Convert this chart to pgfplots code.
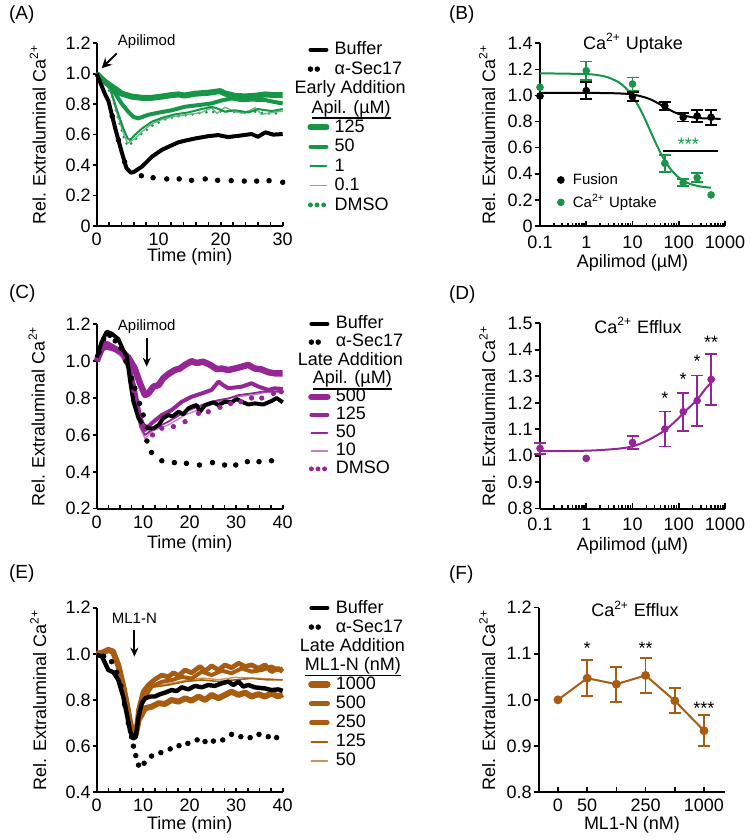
\documentclass[border=0pt]{standalone}
\usepackage{pgfplots}
\pgfplotsset{compat=1.18}
\usepackage{fontspec}
\setmainfont{Liberation Sans}
\usetikzlibrary{arrows.meta}
\definecolor{gA}{RGB}{22,150,70}
\definecolor{gAl}{RGB}{105,188,130}
\definecolor{pC}{RGB}{150,38,150}
\definecolor{pCl}{RGB}{200,128,200}
\definecolor{oE}{RGB}{168,92,18}
\definecolor{oEl}{RGB}{200,148,90}
\newcommand{\ca}{Ca\textsuperscript{2+}}
\newcommand{\ul}[1]{\setbox0\hbox{#1}\rlap{\rule[-3pt]{\wd0}{0.9pt}}\box0}
\newcommand{\st}{\rule[-2.2pt]{0pt}{8.8pt}}
\pgfplotsset{
  every non boxed x axis/.style={},
  every non boxed y axis/.style={},
  panel/.style={
    scale only axis, anchor=south west, clip=false, enlargelimits=false,
    axis lines=left, axis line style={-, line width=1pt},
    x axis line style={-}, y axis line style={-},
    xtick align=inside, ytick align=outside,
    major tick length=2pt, minor tick length=2pt,
    tick style={black, line width=0.8pt},
    tick label style={font=\fontsize{9}{10}\selectfont},
    yticklabel style={xshift=2.5pt},
    label style={font=\fontsize{9}{10}\selectfont},
    /pgf/number format/assume math mode=true,
    ylabel={Rel. Extraluminal \ca},
    legend cell align=left,
  },
  tlegend/.style={
    legend style={at={(#1)}, anchor=north west, draw=none, fill=none,
      font=\fontsize{9}{10}\selectfont, inner sep=0pt,
      nodes={inner sep=0.6pt},
      /tikz/every odd column/.append style={column sep=2pt}},
    legend image code/.code={\draw[line cap=round,##1] (0pt,0pt) -- (8pt,0pt);},
  },
  twodots/.style={legend image code/.code={\fill[black] (0pt,0pt) circle (1.15pt); \fill[black] (3.4pt,0pt) circle (1.15pt);}},
  ebar/.style={only marks, mark=*, mark size=1.7pt, forget plot,
    error bars/.cd, y dir=both, y explicit,
    error bar style={line width=0.9pt},
    error mark options={rotate=90, mark size=3pt, line width=0.9pt}},
}
\begin{document}
\begin{tikzpicture}
\useasboundingbox (0,0) rectangle (375pt,420pt);
\node[anchor=west, font=\fontsize{9.5}{10}\selectfont] at (1pt,412.5pt) {(A)};
\node[anchor=west, font=\fontsize{9.5}{10}\selectfont] at (221pt,412.5pt) {(B)};
\node[anchor=west, font=\fontsize{9.5}{10}\selectfont] at (1pt,273pt) {(C)};
\node[anchor=west, font=\fontsize{9.5}{10}\selectfont] at (221pt,272.5pt) {(D)};
\node[anchor=west, font=\fontsize{9.5}{10}\selectfont] at (1pt,133pt) {(E)};
\node[anchor=west, font=\fontsize{9.5}{10}\selectfont] at (221pt,132.5pt) {(F)};

% ---------------- (A) ----------------
\begin{axis}[panel, tlegend={1.131,1.018}, legend style={row sep=0.4pt},
  at={(48.35pt,307pt)}, width=93pt, height=91.35pt,
  xmin=0, xmax=30, ymin=0, ymax=1.2,
  xtick={0,10,20,30}, minor xtick={2,4,6,8,12,14,16,18,22,24,26,28},
  ytick={0,0.2,0.4,0.6,0.8,1,1.2}, yticklabels={0,0.2,0.4,0.6,0.8,1.0,1.2},
  xlabel={Time (min)},
  ylabel style={at={(axis description cs:-0.317,0.5)}, anchor=center},
  xlabel style={at={(axis description cs:0.5,-0.171)}, anchor=center},
]
\addlegendimage{black, line width=2pt}\addlegendentry{\st Buffer}
\addlegendimage{twodots}\addlegendentry{\st α-Sec17}
\addlegendimage{empty legend}\addlegendentry{\st\hspace*{-20pt}Early Addition}
\addlegendimage{empty legend}\addlegendentry{\rule[-2.7pt]{0pt}{9.3pt}\hspace*{-11.5pt}\ul{Apil. (µM)}}
\addlegendimage{gA, line width=3pt}\addlegendentry{\st 125}
\addlegendimage{gA, line width=2pt}\addlegendentry{\st 50}
\addlegendimage{gA, line width=1pt}\addlegendentry{\st 1}
\addlegendimage{gAl, line width=0.7pt}\addlegendentry{\st 0.1}
\addlegendimage{legend image code/.code={\fill[gA] (0pt,0pt) circle (1pt); \fill[gA] (3.3pt,0pt) circle (1pt); \fill[gA] (6.6pt,0pt) circle (1pt);}}\addlegendentry{\st DMSO}
\addplot[gA, line width=1.5pt, line cap=round, dash pattern=on 0pt off 3.5pt, forget plot] coordinates {(0,1.0) (1.5,0.93) (2.5,0.85) (3.5,0.70) (4.4,0.58) (5,0.525) (5.8,0.55) (7,0.60) (9,0.66) (11,0.70) (13,0.72) (15,0.73) (17,0.745) (19,0.75) (21,0.755) (23,0.745) (25,0.755) (27,0.74) (29,0.74) (30,0.745)};
\addplot[gAl, line width=0.7pt, line join=round, forget plot] coordinates {(0,1.0) (1,0.96) (2.2,0.89) (3.2,0.75) (4.3,0.61) (5,0.543) (6.2,0.575) (7.3,0.62) (8.9,0.67) (10.5,0.70) (12.6,0.72) (14.2,0.729) (16.9,0.745) (18.5,0.777) (19.4,0.74) (20.7,0.78) (22.3,0.75) (23.9,0.74) (25.5,0.777) (26.6,0.733) (28.2,0.745) (30,0.755)};
\addplot[gA, line width=1pt, line join=round, forget plot] coordinates {(0,1.0) (1,0.96) (2.2,0.90) (3.2,0.77) (4.3,0.64) (5,0.575) (5.4,0.565) (6.2,0.60) (7.3,0.64) (8.9,0.685) (10.5,0.71) (12.6,0.733) (14.8,0.746) (16.9,0.768) (18.5,0.783) (19.6,0.77) (20.7,0.75) (22.3,0.76) (24.5,0.746) (26,0.768) (28.2,0.755) (30,0.768)};
\addplot[gA, line width=2pt, line join=round, forget plot] coordinates {(0,1.0) (1.5,0.95) (3,0.87) (4,0.805) (5.1,0.75) (5.9,0.717) (6.7,0.707) (8.3,0.73) (9.9,0.744) (12.1,0.76) (14.2,0.783) (16.4,0.794) (18.5,0.805) (20.2,0.825) (21.8,0.838) (23.4,0.826) (25,0.83) (27.2,0.827) (28.6,0.815) (30,0.805)};
\addplot[gA, line width=3pt, line join=round, forget plot] coordinates {(0,1.0) (1.3,0.947) (3,0.90) (4,0.87) (5.6,0.85) (7.3,0.842) (8.9,0.842) (10.5,0.85) (12.1,0.86) (13.2,0.864) (14.2,0.857) (15.9,0.869) (18,0.875) (19.9,0.886) (20.7,0.87) (22.3,0.855) (23.9,0.851) (25.5,0.855) (27.2,0.864) (28.6,0.86) (30,0.86)};
\addplot[black, only marks, mark=*, mark size=1.15pt, forget plot] coordinates {(2.5,0.722) (3.5,0.565) (4.5,0.421) (7.2,0.33) (9.1,0.317) (11.3,0.309) (13.3,0.309) (15.3,0.30) (17.5,0.309) (19.5,0.30) (21.7,0.298) (23.8,0.295) (25.8,0.295) (27.8,0.298) (30,0.287)};
\addplot[black, line width=2pt, line join=round, forget plot] coordinates {(0,1.0) (1.3,0.87) (1.9,0.82) (3,0.64) (4,0.49) (4.8,0.38) (5.5,0.35) (6,0.355) (7.3,0.39) (8.9,0.455) (10.5,0.50) (12.1,0.53) (13.2,0.55) (14.2,0.56) (15.9,0.575) (18,0.59) (19.6,0.597) (21.2,0.584) (22.8,0.592) (25,0.604) (26,0.586) (27.2,0.615) (28.5,0.60) (30,0.604)};
\node[font=\fontsize{7.5}{8}\selectfont] at (axis cs:8.06,1.21) {Apilimod};
\draw[-{Stealth[length=5pt,width=5pt]}, line width=0.9pt] (axis cs:3.23,1.134) -- (axis cs:0.8,1.036);
\end{axis}

% ---------------- (B) ----------------
\begin{axis}[panel, xmode=log, at={(270pt,307pt)}, width=92.5pt, height=91.35pt,
  xmin=0.1, xmax=1000, ymin=0, ymax=1.4,
  xtick={0.1,1,10,100,1000}, xticklabels={0.1,1,10,100,1000},
  xticklabel style={yshift=-1.3pt},
  minor xtick={0.2,0.3,0.4,0.5,0.6,0.7,0.8,0.9,2,3,4,5,6,7,8,9,20,30,40,50,60,70,80,90,200,300,400,500,600,700,800,900},
  major tick length=2.6pt, minor tick length=1.6pt,
  ytick={0,0.2,0.4,0.6,0.8,1,1.2,1.4}, yticklabels={0,0.2,0.4,0.6,0.8,1.0,1.2,1.4},
  xlabel={Apilimod (µM)},
  ylabel style={at={(axis description cs:-0.286,0.5)}, anchor=center},
  xlabel style={at={(axis description cs:0.5,-0.2025)}, anchor=center},
  legend style={at={(0.09,0.30)}, anchor=north west, draw=none, fill=none, font=\fontsize{7.5}{8}\selectfont, inner sep=0pt, nodes={inner sep=0.6pt}, row sep=2.3pt, /tikz/every odd column/.append style={column sep=3.5pt}},
  legend image code/.code={\fill[#1] (0pt,0pt) circle (1.7pt);},
]
\addlegendimage{black}\addlegendentry{\rule[-1.8pt]{0pt}{7.5pt}Fusion}
\addlegendimage{gA}\addlegendentry{\rule[-1.8pt]{0pt}{7.5pt}\ca{} Uptake}
\addplot[gA, line width=1pt, smooth, forget plot] coordinates {(0.1,1.17) (1,1.164) (2,1.153) (3,1.138) (5,1.102) (7,1.060) (10,0.994) (15,0.888) (20,0.795) (25,0.718) (30,0.655) (40,0.563) (50,0.501) (70,0.426) (100,0.372) (150,0.333) (200,0.316) (300,0.302) (500,0.293)};
\addplot[black, line width=1pt, smooth, forget plot] coordinates {(0.1,1.02) (1,1.02) (2,1.019) (5,1.016) (10,1.008) (20,0.982) (30,0.955) (50,0.911) (70,0.882) (100,0.858) (150,0.841) (200,0.833) (300,0.826) (500,0.823) (800,0.821)};
\addplot[black, line width=1pt, forget plot] coordinates {(46.3,0.575) (718,0.575)};
\addplot[gA, ebar] coordinates {(1,1.19) +- (0,0.07) (10,1.088) +- (0,0.05) (50,0.48) +- (0,0.064) (125,0.332) +- (0,0.026) (250,0.37) +- (0,0.035)};
\addplot[gA, only marks, mark=*, mark size=1.7pt, forget plot] coordinates {(0.1,1.063) (500,0.238)};
\addplot[black, ebar] coordinates {(1,1.037) +- (0,0.066) (10,0.991) +- (0,0.036) (50,0.92) +- (0,0.032) (125,0.833) +- (0,0.032) (250,0.843) +- (0,0.045) (500,0.833) +- (0,0.057)};
\addplot[black, only marks, mark=*, mark size=1.7pt, forget plot] coordinates {(0.1,0.996)};
\node[font=\fontsize{9}{10}\selectfont] at (axis description cs:0.503,1.0) {\ca{} Uptake};
\node[gA, font=\fontsize{9}{10}\selectfont] at (axis cs:161,0.625) {***};
\end{axis}

% ---------------- (C) ----------------
\begin{axis}[panel, tlegend={1.135,1.054},
  at={(48.35pt,165.65pt)}, width=93pt, height=92.2pt,
  xmin=0, xmax=40, ymin=0.2, ymax=1.2,
  xtick={0,10,20,30,40}, minor xtick={2.5,5,7.5,12.5,15,17.5,22.5,25,27.5,32.5,35,37.5},
  ytick={0.2,0.4,0.6,0.8,1,1.2}, yticklabels={0.2,0.4,0.6,0.8,1.0,1.2},
  xlabel={Time (min)},
  ylabel style={at={(axis description cs:-0.323,0.5)}, anchor=center},
  xlabel style={at={(axis description cs:0.5,-0.188)}, anchor=center},
]
\addlegendimage{black, line width=2pt}\addlegendentry{\rule[-2.1pt]{0pt}{8.3pt}Buffer}
\addlegendimage{twodots}\addlegendentry{\rule[-2.1pt]{0pt}{8.3pt}α-Sec17}
\addlegendimage{empty legend}\addlegendentry{\rule[-2.1pt]{0pt}{8.3pt}\hspace*{-19pt}Late Addition}
\addlegendimage{empty legend}\addlegendentry{\rule[-9.8pt]{0pt}{16pt}\hspace*{-11.5pt}\ul{Apil. (µM)}}
\addlegendimage{pC, line width=3.2pt}\addlegendentry{\rule[-2.1pt]{0pt}{8.3pt}500}
\addlegendimage{pC, line width=2pt}\addlegendentry{\rule[-2.1pt]{0pt}{8.3pt}125}
\addlegendimage{pC, line width=0.9pt}\addlegendentry{\rule[-2.1pt]{0pt}{8.3pt}50}
\addlegendimage{pCl, line width=0.7pt}\addlegendentry{\rule[-2.1pt]{0pt}{8.3pt}10}
\addlegendimage{legend image code/.code={\fill[pC] (0pt,0pt) circle (1pt); \fill[pC] (3.3pt,0pt) circle (1pt); \fill[pC] (6.6pt,0pt) circle (1pt);}}\addlegendentry{\rule[-2.1pt]{0pt}{8.3pt}DMSO}
\addplot[pC, only marks, mark=*, mark size=1.1pt, forget plot] coordinates {(8,0.84) (10,0.65) (12,0.60) (14,0.636) (16.5,0.645) (19,0.672) (21.9,0.717) (24,0.726) (26.5,0.75) (28.8,0.77) (31,0.78) (33.3,0.8) (35.5,0.8) (38,0.825) (39.7,0.834)};
\addplot[pCl, line width=0.7pt, line join=round, forget plot] coordinates {(0,1.0) (1.1,1.05) (2.1,1.07) (3.6,1.06) (5.4,1.02) (6.8,0.95) (8.2,0.78) (9.3,0.64) (10.4,0.58) (11.8,0.62) (15.4,0.654) (19,0.708) (22.6,0.744) (26.2,0.78) (29.7,0.807) (33.3,0.815) (36.9,0.834) (40,0.843)};
\addplot[pC, line width=0.9pt, line join=round, forget plot] coordinates {(0,1.0) (1.1,1.06) (2.1,1.08) (3.6,1.07) (5.4,1.03) (6.8,0.96) (8.2,0.80) (9.3,0.65) (10.4,0.60) (11.8,0.627) (15.4,0.672) (19,0.726) (22.6,0.762) (26.2,0.789) (28.3,0.798) (30.5,0.816) (33.3,0.825) (35.5,0.834) (40,0.834)};
\addplot[pC, line width=2pt, line join=round, forget plot] coordinates {(0,1.0) (1.1,1.08) (2.1,1.10) (3.6,1.08) (5.4,1.04) (6.8,0.99) (8.2,0.85) (9.3,0.70) (10.4,0.627) (11.8,0.663) (14,0.708) (16.1,0.735) (18.3,0.78) (20.4,0.807) (22.6,0.825) (24.7,0.844) (26.2,0.889) (27.2,0.87) (28.3,0.853) (31.2,0.862) (33.3,0.88) (34.8,0.862) (36.9,0.844) (38.3,0.853) (40,0.849)};
\addplot[pC, line width=3.2pt, line join=round, forget plot] coordinates {(0,1.0) (1.1,1.07) (2.1,1.08) (3.6,1.07) (5.4,1.05) (6.8,1.02) (8.2,0.96) (9.3,0.88) (10.4,0.816) (11.1,0.825) (12.2,0.862) (13.3,0.87) (14.3,0.907) (15.4,0.93) (16.8,0.952) (17.9,0.96) (19,0.98) (20.4,1.0) (21.5,0.99) (22.9,0.997) (24.4,0.98) (25.8,0.957) (26.9,0.96) (28.3,0.952) (29.7,0.96) (31.2,0.97) (32.6,0.98) (34,0.96) (35.5,0.955) (36.9,0.94) (38.3,0.934) (40,0.934)};
\addplot[black, only marks, mark=*, mark size=1.15pt, forget plot] coordinates {(0.5,1.05) (1.5,1.12) (2.8,1.14) (4.0,1.11) (5.2,1.07) (6.3,1.0) (7.5,0.907) (8.2,0.853) (9.2,0.771) (10,0.708) (10.8,0.567) (11.8,0.505) (14,0.46) (16.7,0.45) (19.3,0.446) (22.1,0.437) (24.9,0.45) (27.5,0.437) (29.9,0.437) (32.4,0.455) (34.9,0.455) (37.6,0.46)};
\addplot[black, line width=2pt, line join=round, forget plot] coordinates {(0,1.02) (1,1.10) (2.15,1.16) (3.2,1.15) (4.65,1.12) (5.7,1.06) (6.45,1.03) (7.2,0.89) (7.9,0.78) (9,0.69) (10,0.654) (11.1,0.635) (12.2,0.635) (13.3,0.654) (14.3,0.69) (15.4,0.708) (16.3,0.70) (17.6,0.726) (18.6,0.712) (19.7,0.744) (20.4,0.753) (21.5,0.762) (22.2,0.726) (23.3,0.762) (25.1,0.777) (26.2,0.762) (27.6,0.78) (29,0.777) (30.1,0.795) (31.2,0.78) (32.6,0.765) (34,0.771) (35.8,0.765) (37.6,0.784) (38.7,0.80) (40,0.777)};
\node[font=\fontsize{7.5}{8}\selectfont] at (axis cs:10.75,1.187) {Apilimod};
\draw[-{Stealth[length=4.5pt,width=4pt]}, line width=0.9pt] (axis cs:10.75,1.125) -- (axis cs:10.75,0.97);
\end{axis}

% ---------------- (D) ----------------
\begin{axis}[panel, xmode=log, at={(270pt,165.65pt)}, width=92.5pt, height=92.7pt,
  xmin=0.1, xmax=1000, ymin=0.8, ymax=1.5,
  xtick={0.1,1,10,100,1000}, xticklabels={0.1,1,10,100,1000},
  xticklabel style={yshift=-1.3pt},
  minor xtick={0.2,0.3,0.4,0.5,0.6,0.7,0.8,0.9,2,3,4,5,6,7,8,9,20,30,40,50,60,70,80,90,200,300,400,500,600,700,800,900},
  major tick length=2.6pt, minor tick length=1.6pt,
  ytick={0.8,0.9,1,1.1,1.2,1.3,1.4,1.5}, yticklabels={0.8,0.9,1.0,1.1,1.2,1.3,1.4,1.5},
  xlabel={Apilimod (µM)},
  ylabel style={at={(axis description cs:-0.285,0.5)}, anchor=center},
  xlabel style={at={(axis description cs:0.5,-0.2)}, anchor=center},
]
\addplot[pC, line width=1pt, smooth, forget plot] coordinates {(0.1,1.017) (1.02,1.019) (4.55,1.026) (10.4,1.036) (20.2,1.056) (39.3,1.084) (54.9,1.101) (90.2,1.135) (148,1.173) (244,1.21) (402,1.258) (608,1.292)};
\addplot[pC, ebar] coordinates {(0.1,1.028) +- (0,0.02) (10,1.05) +- (0,0.025) (50,1.101) +- (0,0.066) (125,1.166) +- (0,0.072) (250,1.208) +- (0,0.095) (500,1.288) +- (0,0.095)};
\addplot[pC, only marks, mark=*, mark size=1.7pt, forget plot] coordinates {(1,0.99)};
\node[font=\fontsize{9}{10}\selectfont] at (axis description cs:0.53,0.99) {\ca{} Efflux};
\node[font=\fontsize{9}{10}\selectfont] at (axis cs:50,1.215) {*};
\node[font=\fontsize{9}{10}\selectfont] at (axis cs:125,1.287) {*};
\node[font=\fontsize{9}{10}\selectfont] at (axis cs:250,1.356) {*};
\node[font=\fontsize{9}{10}\selectfont] at (axis cs:500,1.429) {**};
\end{axis}

% ---------------- (E) ----------------
\begin{axis}[panel, tlegend={1.135,1.051}, legend style={row sep=0.25pt},
  at={(48.35pt,23.85pt)}, width=93pt, height=92.3pt,
  xmin=0, xmax=40, ymin=0.4, ymax=1.2,
  xtick={0,10,20,30,40}, minor xtick={2.5,5,7.5,12.5,15,17.5,22.5,25,27.5,32.5,35,37.5},
  ytick={0.4,0.6,0.8,1,1.2}, yticklabels={0.4,0.6,0.8,1.0,1.2},
  xlabel={Time (min)},
  ylabel style={at={(axis description cs:-0.314,0.5)}, anchor=center},
  xlabel style={at={(axis description cs:0.5,-0.177)}, anchor=center},
]
\addlegendimage{black, line width=2pt}\addlegendentry{\st Buffer}
\addlegendimage{twodots}\addlegendentry{\st α-Sec17}
\addlegendimage{empty legend}\addlegendentry{\st\hspace*{-18pt}Late Addition}
\addlegendimage{empty legend}\addlegendentry{\rule[-6.7pt]{0pt}{13.3pt}\hspace*{-15.5pt}\ul{ML1-N (nM)}}
\addlegendimage{oE, line width=3.2pt}\addlegendentry{\st 1000}
\addlegendimage{oE, line width=2.6pt}\addlegendentry{\st 500}
\addlegendimage{oE, line width=2.2pt}\addlegendentry{\st 250}
\addlegendimage{oE, line width=0.9pt}\addlegendentry{\st 125}
\addlegendimage{oEl, line width=0.9pt}\addlegendentry{\st 50}
\addplot[oEl, line width=0.7pt, line join=round, forget plot] coordinates {(0,1.0) (1.2,1.005) (2.5,1.017) (3.5,1.01) (4.65,0.95) (5.7,0.86) (6.5,0.78) (7.2,0.70) (7.9,0.645) (8.4,0.65) (9,0.75) (10.4,0.82) (11.8,0.86) (15.4,0.87) (19,0.884) (22.6,0.895) (26.2,0.888) (29.7,0.898) (33.3,0.895) (36.9,0.892) (40,0.887)};
\addplot[oE, line width=0.8pt, line join=round, forget plot] coordinates {(0,1.0) (1.2,1.005) (2.5,1.017) (3.5,1.01) (4.65,0.95) (5.7,0.86) (6.5,0.78) (7.2,0.70) (7.9,0.645) (8.4,0.65) (9,0.75) (10.4,0.81) (11.8,0.855) (15.4,0.865) (19,0.88) (22.6,0.887) (26.2,0.88) (29.7,0.887) (33.3,0.894) (36.9,0.887) (40,0.887)};
\addplot[oE, line width=2pt, line join=round, forget plot] coordinates {(0,1.0) (1.2,1.005) (2.5,1.017) (3.5,1.01) (4.65,0.95) (5.7,0.86) (6.5,0.78) (7.2,0.70) (7.9,0.645) (8.4,0.65) (9,0.74) (10,0.80) (11.8,0.858) (14,0.879) (16.1,0.886) (18.3,0.90) (20.4,0.893) (22.6,0.923) (24.7,0.908) (26.9,0.927) (29,0.916) (31.2,0.937) (33.3,0.923) (35.5,0.93) (37.6,0.945) (39,0.93) (40,0.937)};
\addplot[oE, line width=2.4pt, line join=round, forget plot] coordinates {(0,1.0) (1.2,1.005) (2.5,1.017) (3.5,1.01) (4.65,0.95) (5.7,0.86) (6.5,0.78) (7.2,0.70) (7.9,0.645) (8.4,0.65) (9,0.757) (10,0.836) (11.1,0.865) (12.5,0.889) (14,0.908) (15.4,0.90) (16.5,0.918) (17.6,0.905) (19,0.93) (20.4,0.918) (22.2,0.945) (23.3,0.925) (24.7,0.948) (26.2,0.93) (27.6,0.952) (29,0.94) (30.5,0.959) (31.9,0.945) (33.3,0.952) (34.8,0.937) (36.2,0.952) (37.6,0.923) (39,0.937) (40,0.923)};
\addplot[oE, line width=3pt, line join=round, forget plot] coordinates {(0,1.0) (1.2,1.005) (2.5,1.017) (3.5,1.01) (4.65,0.95) (5.7,0.86) (6.5,0.78) (7.2,0.70) (7.9,0.645) (8.4,0.65) (9,0.713) (10.4,0.764) (11.8,0.771) (13.3,0.786) (14.7,0.783) (16.1,0.80) (17.6,0.793) (19,0.807) (20.4,0.797) (21.9,0.815) (23.3,0.80) (24.7,0.822) (26.2,0.808) (27.6,0.822) (29,0.836) (30.5,0.822) (31.9,0.832) (33.3,0.815) (34.8,0.825) (36.2,0.815) (37.6,0.829) (39,0.815) (40,0.825)};
\addplot[black, only marks, mark=*, mark size=1.15pt, forget plot] coordinates {(1.5,0.99) (3.2,0.966) (4.3,0.92) (5.2,0.86) (6,0.78) (6.8,0.70) (7.5,0.64) (7.9,0.6) (8.4,0.559) (9,0.518) (10.2,0.526) (11.8,0.557) (13.8,0.572) (15.8,0.588) (17.7,0.602) (19.6,0.612) (21.6,0.627) (23.3,0.62) (25.1,0.622) (27.1,0.627) (29,0.651) (31,0.641) (33,0.637) (34.9,0.651) (36.9,0.641) (38.7,0.637)};
\addplot[black, line width=2.2pt, line join=round, forget plot] coordinates {(0,0.995) (1.1,0.99) (1.8,0.96) (2.5,0.93) (3.6,0.92) (4.65,0.887) (5.7,0.815) (6.45,0.742) (7.2,0.663) (7.9,0.634) (8.4,0.64) (9,0.728) (9.7,0.786) (10.4,0.807) (11.5,0.815) (12.5,0.815) (13.6,0.825) (14.7,0.832) (16.1,0.843) (17.2,0.839) (18.3,0.855) (19.7,0.846) (21.1,0.861) (22.6,0.855) (24,0.865) (25.4,0.861) (26.9,0.872) (28.3,0.88) (29.4,0.865) (30.5,0.88) (31.5,0.858) (32.6,0.865) (34,0.855) (36.2,0.85) (37.6,0.843) (39,0.846) (40,0.84)};
\node[font=\fontsize{7.5}{8}\selectfont] at (axis cs:8.1,1.154) {ML1-N};
\draw[-{Stealth[length=4.5pt,width=4pt]}, line width=0.9pt] (axis cs:8.1,1.105) -- (axis cs:8.1,0.988);
\end{axis}

% ---------------- (F) ----------------
\begin{axis}[panel, at={(269.5pt,24pt)}, width=93pt, height=92.15pt,
  xmin=-0.65, xmax=5.72, ymin=0.8, ymax=1.2,
  xtick={0,1,2,3,4,5}, xticklabels={0,50,,250,,1000},
  major tick length=2.6pt,
  ytick={0.8,0.9,1,1.1,1.2}, yticklabels={0.8,0.9,1.0,1.1,1.2},
  xlabel={ML1-N (nM)},
  ylabel style={at={(axis description cs:-0.278,0.5)}, anchor=center},
  xlabel style={at={(axis description cs:0.5,-0.179)}, anchor=center},
]
\addplot[oE, line width=1pt, mark=*, mark size=1.7pt, forget plot] coordinates {(0,1.0) (1,1.047) (2,1.034) (3,1.053) (4,0.998) (5,0.933)};
\addplot[oE, ebar] coordinates {(1,1.047) +- (0,0.039) (2,1.034) +- (0,0.038) (3,1.053) +- (0,0.038) (4,0.998) +- (0,0.027) (5,0.933) +- (0,0.034)};
\node[font=\fontsize{9}{10}\selectfont] at (axis description cs:0.516,0.993) {\ca{} Efflux};
\node[font=\fontsize{9}{10}\selectfont] at (axis cs:1,1.112) {*};
\node[font=\fontsize{9}{10}\selectfont] at (axis cs:3,1.112) {**};
\node[font=\fontsize{9}{10}\selectfont] at (axis cs:5,0.982) {***};
\end{axis}
\end{tikzpicture}
\end{document}
